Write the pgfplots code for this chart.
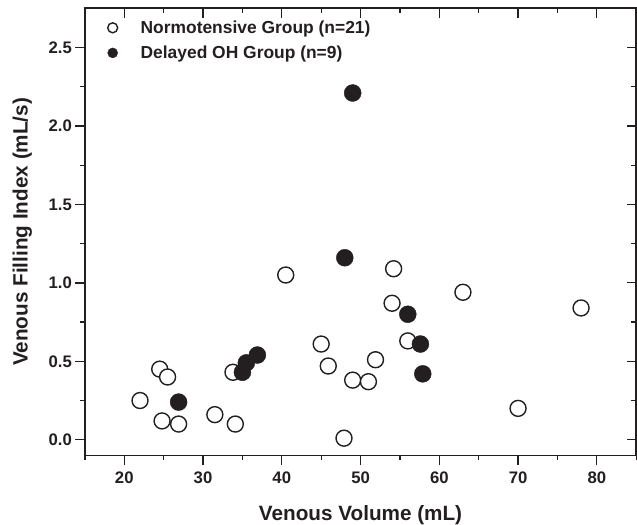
\documentclass[border=0pt]{standalone}
\usepackage{fontspec}
\setmainfont{Liberation Sans}
\usepackage{pgfplots}
\pgfplotsset{compat=1.18}
\definecolor{ink}{RGB}{35,31,32}

\pgfplotstableread{
x y
22.0 0.25
24.5 0.45
25.5 0.40
24.8 0.12
26.9 0.10
31.5 0.16
34.1 0.10
33.8 0.43
40.5 1.05
45.0 0.61
45.9 0.47
49.0 0.38
51.0 0.37
51.9 0.51
47.9 0.01
54.2 1.09
54.0 0.87
56.0 0.63
63.0 0.94
70.0 0.20
78.0 0.84
}\normo

\pgfplotstableread{
x y
26.9 0.24
35.0 0.43
35.5 0.49
36.9 0.54
48.0 1.16
49.0 2.21
56.0 0.80
57.6 0.61
57.9 0.42
}\delayed

\begin{document}
\begin{tikzpicture}
\begin{axis}[
  name=main,
  scale only axis, width=552bp, height=447.7bp,
  xmin=15, xmax=85, ymin=-0.1, ymax=2.75,
  xtick={20,30,40,50,60,70,80},
  ytick={0,0.5,1,1.5,2,2.5},
  minor xtick={15,25,35,45,55,65,75,85},
  minor ytick={0.25,0.75,1.25,1.75,2.25},
  tick align=outside, xtick pos=left, ytick pos=left,
  major tick length=9.5bp, minor tick length=5bp,
  axis line style={line width=1.6bp, color=ink},
  every tick/.style={line width=1.3bp, color=ink},
  /pgf/number format/assume math mode=true,
  tick label style={font=\bfseries\fontsize{16.8}{18}\selectfont, text=ink},
  yticklabel style={/pgf/number format/.cd, fixed, fixed zerofill, precision=1},
  xticklabel style={anchor=base, yshift=-19bp},
  xlabel={Venous Volume (mL)},
  ylabel={Venous Filling Index (mL/s)},
  every axis x label/.style={at={(axis description cs:0.5,-0.1452)}, anchor=base,
    font=\bfseries\fontsize{20.8}{24}\selectfont, text=ink},
  every axis y label/.style={at={(axis description cs:-0.104,0.5)}, rotate=90, anchor=base,
    font=\bfseries\fontsize{20.8}{24}\selectfont, text=ink},
  legend style={at={(axis description cs:0.041,0.977)}, anchor=north west, draw=none, fill=none,
    inner sep=0pt, font=\bfseries\fontsize{17.5}{19}\selectfont, text=ink, row sep=7bp,
    cells={anchor=west}},
  legend image code/.code={\path[draw=none,fill=none] (0bp,-5bp) rectangle (31bp,5bp); \draw[#1, mark size=5bp] plot coordinates {(5bp,0bp)};},
  clip=false,
]
\addplot[only marks, mark=*, mark size=8bp, mark options={draw=ink, fill=white, line width=1.4bp}] table {\normo};
\addlegendentry{Normotensive Group (n=21)}
\addplot[only marks, mark=*, mark size=8.5bp, mark options={draw=ink, fill=ink, line width=0.4bp}] table {\delayed};
\addlegendentry{Delayed OH Group (n=9)}
\end{axis}
\begin{axis}[
  scale only axis, width=552bp, height=447.7bp,
  xmin=15, xmax=85, ymin=-0.1, ymax=2.75,
  xtick={20,30,40,50,60,70,80},
  ytick={0,0.5,1,1.5,2,2.5},
  minor xtick={15,25,35,45,55,65,75,85},
  minor ytick={0.25,0.75,1.25,1.75,2.25},
  tick align=inside, xtick pos=right, ytick pos=right,
  major tick length=9.5bp, minor tick length=5bp,
  axis line style={line width=1.6bp, color=ink},
  every tick/.style={line width=1.3bp, color=ink},
  xticklabels={}, yticklabels={},
]
\end{axis}
\pgfresetboundingbox
\path[use as bounding box] ([xshift=-85bp,yshift=-69bp]main.south west) rectangle ([xshift=0.8bp,yshift=8.3bp]main.north east);
\end{tikzpicture}
\end{document}
